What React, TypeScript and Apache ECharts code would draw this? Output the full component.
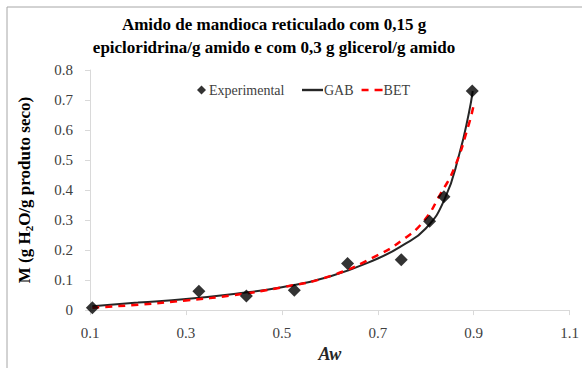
import React, { useEffect, useRef } from "react";
import * as echarts from "echarts";

const expAw = [0.105, 0.327, 0.426, 0.526, 0.637, 0.749, 0.808, 0.838, 0.897];
const expM = [0.008, 0.063, 0.047, 0.066, 0.155, 0.168, 0.296, 0.378, 0.73];

const gabAw = [0.105, 0.2, 0.3, 0.4, 0.5, 0.6, 0.7, 0.75, 0.8, 0.84, 0.87, 0.89, 0.898];
const gabM = [0.013, 0.025, 0.037, 0.054, 0.076, 0.112, 0.172, 0.214, 0.272, 0.372, 0.52, 0.657, 0.73];

const betAw = [0.105, 0.2, 0.3, 0.4, 0.5, 0.6, 0.7, 0.75, 0.795, 0.83, 0.86, 0.89, 0.9];
const betM = [0.008, 0.018, 0.032, 0.05, 0.076, 0.113, 0.183, 0.232, 0.295, 0.385, 0.475, 0.62, 0.684];

const titleLines = [
  "Amido de mandioca reticulado com 0,15 g",
  "epicloridrina/g amido e com 0,3 g glicerol/g amido",
];

const FONT = "Times New Roman, Liberation Serif, serif";

export default function App() {
  const ref = useRef<HTMLDivElement>(null);
  useEffect(() => {
    if (!ref.current) return;
    const chart = echarts.init(ref.current, null, { renderer: "svg" });
    const zip = (a: number[], b: number[]) => a.map((v, i) => [v, b[i]]);
    chart.setOption({
      animation: false,
      backgroundColor: "#fff",
      textStyle: { fontFamily: FONT },
      title: {
        text: titleLines.join("\n"),
        left: 269,
        top: 8,
        textAlign: "center",
        textStyle: {
          fontFamily: FONT,
          fontSize: 17,
          fontWeight: "bold",
          color: "#000",
          lineHeight: 23,
        },
      },
      legend: [
        {
          data: [{ name: "Experimental", icon: "diamond" }],
          left: 192,
          top: 78,
          itemWidth: 9,
          itemHeight: 9,
          textStyle: { fontFamily: FONT, fontSize: 14, color: "#404040", padding: [0, 0, 0, -2] },
        },
        {
          data: [
            { name: "GAB", icon: "path://M0,0h21v2.4h-21z" },
            { name: "BET", icon: "path://M0,0h7v2.4h-7z M13,0h8v2.4h-8z" },
          ],
          left: 297,
          top: 78,
          itemWidth: 21,
          itemHeight: 2.4,
          itemGap: 8,
          textStyle: { fontFamily: FONT, fontSize: 14, color: "#404040", padding: [0, 0, 0, -4] },
        },
      ],
      graphic: [
        {
          type: "rect",
          shape: { x: 7, y: 7, width: 700, height: 500 },
          style: { fill: "none", stroke: "#a6a6a6", lineWidth: 1 },
          silent: true,
        },
      ],
      grid: { left: 90, right: 9, top: 70, bottom: 55, containLabel: false },
      xAxis: {
        type: "value",
        min: 0.1,
        max: 1.1,
        interval: 0.2,
        name: "Aw",
        nameLocation: "middle",
        nameGap: 31,
        nameTextStyle: {
          fontFamily: FONT,
          fontSize: 18,
          fontWeight: "bold",
          fontStyle: "italic",
          color: "#262626",
        },
        axisLine: { lineStyle: { color: "#d9d9d9", width: 1 } },
        axisTick: { show: true, length: 5, lineStyle: { color: "#d9d9d9" } },
        splitLine: { show: false },
        axisLabel: {
          fontFamily: FONT,
          fontSize: 15,
          color: "#404040",
          margin: 15,
          formatter: (v: number) => v.toFixed(1),
        },
      },
      yAxis: {
        type: "value",
        min: 0,
        max: 0.8,
        interval: 0.1,
        name: "M (g H{sub|2}O/g produto seco)",
        nameLocation: "middle",
        nameGap: 56,
        nameRotate: 90,
        nameTextStyle: {
          fontFamily: FONT,
          fontSize: 17,
          fontWeight: "bold",
          color: "#000",
          rich: {
            sub: {
              fontFamily: FONT,
              fontSize: 11,
              fontWeight: "bold",
              color: "#000",
              verticalAlign: "bottom",
              padding: [8, 0, 0, 0],
            },
          },
        },
        axisLine: { show: true, lineStyle: { color: "#d9d9d9", width: 1 } },
        axisTick: { show: true, length: 5, lineStyle: { color: "#d9d9d9" } },
        splitLine: { show: false },
        axisLabel: {
          fontFamily: FONT,
          fontSize: 15,
          color: "#404040",
          margin: 17,
          formatter: (v: number) => (v === 0 ? "0" : v.toFixed(1)),
        },
      },
      series: [
        {
          name: "GAB",
          type: "line",
          data: zip(gabAw, gabM),
          smooth: 0.5,
          symbol: "none",
          lineStyle: { color: "#262626", width: 2 },
          itemStyle: { color: "#262626" },
          z: 3,
        },
        {
          name: "BET",
          type: "line",
          data: zip(betAw, betM),
          smooth: 0.5,
          symbol: "none",
          lineStyle: { color: "#ff0000", width: 2.5, type: [7, 6] },
          itemStyle: { color: "#ff0000" },
          z: 4,
        },
        {
          name: "Experimental",
          type: "scatter",
          data: zip(expAw, expM),
          symbol: "diamond",
          symbolSize: 13,
          itemStyle: { color: "#000" },
          z: 5,
        },
      ],
    });
    return () => chart.dispose();
  }, []);
  return (
    <div
      ref={ref}
      style={{ position: "absolute", left: 0, top: 0, width: 582, height: 368 }}
    />
  );
}
